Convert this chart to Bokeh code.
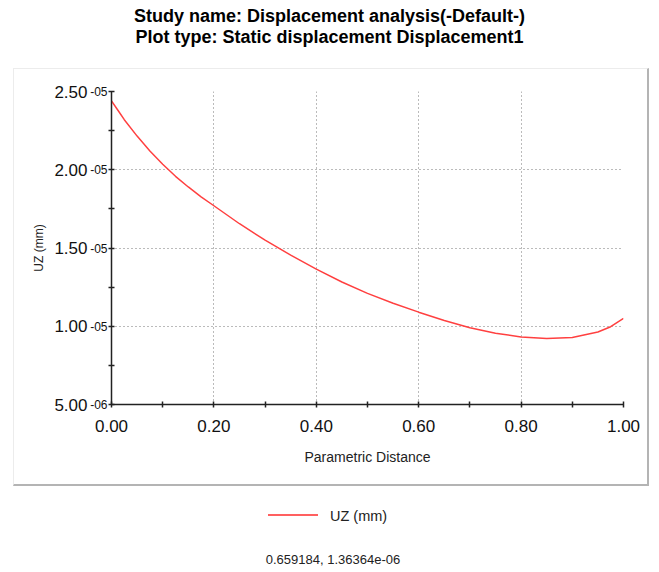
from bokeh.plotting import figure
from bokeh.models import Div, FixedTicker, Range1d, LinearAxis
from bokeh.layouts import column
from bokeh.embed import file_html
from bokeh.resources import INLINE

title_lines = ["Study name: Displacement analysis(-Default-)",
               "Plot type: Static displacement Displacement1"]
x_label = "Parametric Distance"
y_label = "UZ (mm)"
series_name = "UZ (mm)"
status_text = "0.659184, 1.36364e-06"

# Parametric distance vs UZ displacement (mm)
dist = [0.0, 0.0125, 0.025, 0.05, 0.075, 0.1, 0.125, 0.15, 0.175, 0.2, 0.25,
        0.3, 0.35, 0.4, 0.45, 0.5, 0.55, 0.6, 0.65, 0.7, 0.75, 0.8, 0.85, 0.9,
        0.95, 0.975, 1.0]
uz = [2.44e-5, 2.38e-5, 2.32e-5, 2.215e-5, 2.12e-5, 2.035e-5, 1.958e-5, 1.89e-5,
      1.827e-5, 1.77e-5, 1.655e-5, 1.55e-5, 1.455e-5, 1.365e-5, 1.283e-5,
      1.21e-5, 1.147e-5, 1.09e-5, 1.037e-5, 0.99e-5, 0.955e-5, 0.932e-5,
      0.921e-5, 0.928e-5, 0.963e-5, 0.997e-5, 1.05e-5]

x_ticks = [0.0, 0.2, 0.4, 0.6, 0.8, 1.0]
x_tick_labels = ["0.00", "0.20", "0.40", "0.60", "0.80", "1.00"]
y_ticks = [5e-6, 1e-5, 1.5e-5, 2e-5, 2.5e-5]
y_tick_mant = ["5.00", "1.00", "1.50", "2.00", "2.50"]
y_tick_exp = ["-06", "-05", "-05", "-05", "-05"]

FONT = "Liberation Sans"

title = Div(
    text="<div style='font-family:Liberation Sans;font-weight:bold;font-size:18px;"
         "line-height:21px;text-align:center;color:#000;width:659px;padding-top:6px'>"
         + title_lines[0] + "<br>" + title_lines[1] + "</div>",
    width=659, height=68, margin=(0, 0, 0, 0))

p = figure(width=636, height=418, output_backend="svg", toolbar_location=None,
           x_range=Range1d(0, 1), y_range=Range1d(5e-6, 2.5e-5),
           min_border_left=97, min_border_right=27, min_border_top=22,
           min_border_bottom=83, margin=(0, 0, 0, 13))
p.styles = {"border-left": "1px solid #ececec", "border-top": "1px solid #ececec",
            "border-right": "2px solid #b4b4b4", "border-bottom": "2px solid #b4b4b4"}
p.outline_line_color = None
p.background_fill_color = "white"
p.border_fill_color = "white"

p.line(dist, uz, line_color="#ff4040", line_width=1.5)

p.xaxis.ticker = FixedTicker(ticks=x_ticks, minor_ticks=[0.1, 0.3, 0.5, 0.7, 0.9])
p.xaxis.major_label_overrides = {t: l for t, l in zip(x_ticks, x_tick_labels)}
p.xaxis.major_label_text_font = FONT
p.xaxis.major_label_text_font_size = "17px"
p.xaxis.major_label_text_color = "#111"
p.xaxis.major_label_standoff = 12
p.xaxis.axis_label = x_label
p.xaxis.axis_label_text_font = FONT
p.xaxis.axis_label_text_font_size = "14px"
p.xaxis.axis_label_text_font_style = "normal"
p.xaxis.axis_label_text_color = "#222"
p.xaxis.axis_label_standoff = 14

# inner y axis: line, ticks and exponent labels
yax = p.yaxis[0]
yax.ticker = FixedTicker(ticks=y_ticks, minor_ticks=[7.5e-6, 1.25e-5, 1.75e-5, 2.25e-5])
yax.major_label_overrides = {t: e for t, e in zip(y_ticks, y_tick_exp)}
yax.major_label_text_font = FONT
yax.major_label_text_font_size = "12px"
yax.major_label_text_color = "#111"
yax.major_label_standoff = 1

for ax in (p.xaxis[0], yax):
    ax.axis_line_color = "#222"
    ax.axis_line_width = 1.5
    ax.major_tick_line_color = "#222"
    ax.minor_tick_line_color = "#222"
    ax.major_tick_line_width = 1.5
    ax.minor_tick_line_width = 1.5
    ax.major_tick_in = 3
    ax.major_tick_out = 3
    ax.minor_tick_in = 3
    ax.minor_tick_out = 3

# outer y axis: mantissa labels and axis title
mant_axis = LinearAxis(ticker=FixedTicker(ticks=y_ticks),
                       major_label_overrides={t: m for t, m in zip(y_ticks, y_tick_mant)},
                       major_label_text_font=FONT, major_label_text_font_size="17px",
                       major_label_text_color="#111", major_label_standoff=0,
                       axis_line_color=None, major_tick_line_color=None,
                       minor_tick_line_color=None, major_tick_in=0, major_tick_out=0,
                       minor_tick_in=0, minor_tick_out=0,
                       axis_label=y_label, axis_label_text_font=FONT,
                       axis_label_text_font_size="12px", axis_label_text_font_style="normal",
                       axis_label_text_color="#222", axis_label_standoff=5)
p.add_layout(mant_axis, "left")

p.xgrid.ticker = FixedTicker(ticks=x_ticks[1:])
p.ygrid.ticker = FixedTicker(ticks=y_ticks[1:])
for g in (p.xgrid[0], p.ygrid[0]):
    g.grid_line_color = "#777"
    g.grid_line_dash = "1 3"
    g.grid_line_width = 1

legend = Div(
    text="<div style='font-family:Liberation Sans;color:#222;width:659px;position:relative;height:83px'>"
         "<div style='position:absolute;left:268px;top:28px;width:50px;height:0;border-top:2px solid #ff6060'></div>"
         "<div style='position:absolute;left:330px;top:22px;font-size:14.5px;line-height:16px'>" + series_name + "</div>"
         "<div style='position:absolute;left:7px;top:66px;width:652px;text-align:center;font-size:13px;line-height:15px'>"
         + status_text + "</div>"
         "</div>",
    width=659, height=83, margin=(0, 0, 0, 0))

layout = column(title, p, legend, spacing=0)

open("out.html", "w").write(file_html(layout, INLINE))
